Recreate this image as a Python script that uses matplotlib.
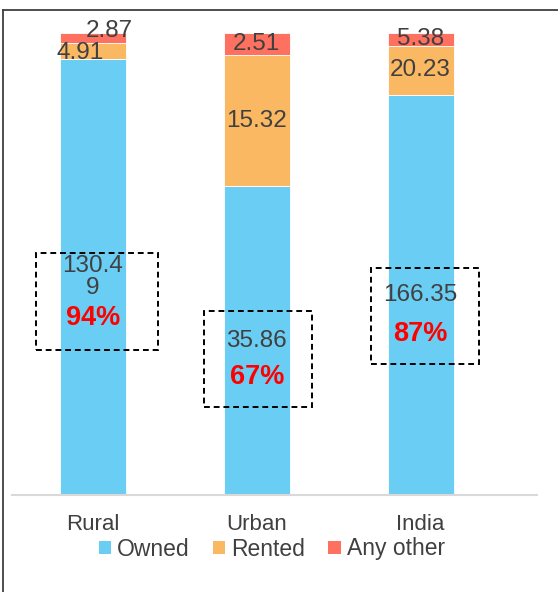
import matplotlib
matplotlib.use("Agg")
import matplotlib.pyplot as plt
from matplotlib.lines import Line2D
from matplotlib.patches import Rectangle, Patch
import numpy as np

# data
categories = ["Rural", "Urban", "India"]
series_names = ["Owned", "Rented", "Any other"]
owned = [130.49, 35.86, 166.35]
rented = [4.91, 15.32, 20.23]
other = [2.87, 2.51, 5.38]
owned_labels = ["130.4\n9", "35.86", "166.35"]

colors = ["#6ACDF3", "#FBB862", "#FE7060"]
text_color = "#404040"

plt.rcParams["font.family"] = ["Liberation Sans", "DejaVu Sans"]

fig = plt.figure(figsize=(5.58, 5.92), dpi=100)
ax = fig.add_axes([12 / 558, 1 - 495 / 592, 525 / 558, 462 / 592])

x = np.arange(len(categories))
vals = np.array([owned, rented, other], dtype=float)
totals = vals.sum(axis=0)
pct = vals / totals * 100

bottom = np.zeros(len(categories))
for i in range(3):
    ax.bar(x, pct[i], 0.403, bottom=bottom, color=colors[i],
           label=series_names[i], edgecolor="white", linewidth=0.6)
    bottom += pct[i]

# segment labels
fs = 17.5
for j in range(len(categories)):
    base = 0.0
    for i, series in enumerate([owned, rented, other]):
        mid = base + pct[i, j] / 2
        base += pct[i, j]
        txt = f"{series[j]:.2f}"
        dx, dy = 0, 0
        if i == 0:
            txt = owned_labels[j]
        if j == 0 and i == 1:
            dx, dy = -9.4, -1.4
        if j == 0 and i == 2:
            dx, dy = 11.5, 5
        ax.annotate(txt, (x[j], mid), xytext=(dx, dy), textcoords="offset points",
                    ha="center", va="center", fontsize=fs, color=text_color,
                    linespacing=0.95, zorder=5)

# share of owned, in red
pct_offsets = [-29.5, -26, -28.5]
for j in range(len(categories)):
    ax.annotate(f"{pct[0, j]:.0f}%", (x[j], pct[0, j] / 2), xytext=(0, pct_offsets[j]),
                textcoords="offset points", ha="center", va="center",
                fontsize=19.5, fontweight="bold", color="#FF0000", zorder=5)

# dashed boxes around owned labels
boxes = [(-0.348, 31.4, 0.745, 21.0), (-0.32, 19.0, 0.66, 20.8), (-0.302, 28.4, 0.659, 20.7)]
for j, (bx, by, bw, bh) in enumerate(boxes):
    ax.add_patch(Rectangle((x[j] + bx, by), bw, bh, fill=False, ls=(0, (3, 2)),
                           lw=1.4, edgecolor="black", zorder=6))

ax.set_xlim(-0.4947, 2.711)
ax.set_ylim(0, 100)
ax.set_xticks(x)
ax.set_xticklabels(categories, fontsize=16, color=text_color)
ax.tick_params(axis="x", length=0, pad=13.5)
ax.set_yticks([])
for s in ["top", "right", "left"]:
    ax.spines[s].set_visible(False)
ax.spines["bottom"].set_color("#D9D9D9")
ax.spines["bottom"].set_linewidth(1.5)

handles = [Patch(facecolor=c, edgecolor="none") for c in colors]
fig.legend(handles, series_names, loc="center", bbox_to_anchor=(0.487, 1 - 549 / 592),
           ncol=3, frameon=False, fontsize=16.5, handlelength=0.54, handleheight=0.54,
           handletextpad=0.27, columnspacing=1.0, labelcolor=text_color, borderpad=0)

# outer frame (top and left)
fig.add_artist(Line2D([3 / 558, 1], [1 - 10 / 592] * 2, transform=fig.transFigure,
                      color="#3F3F3F", lw=1.3))
fig.add_artist(Line2D([3 / 558] * 2, [0, 1 - 10 / 592], transform=fig.transFigure,
                      color="#3F3F3F", lw=1.3))

fig.savefig("out.png", dpi=100)
